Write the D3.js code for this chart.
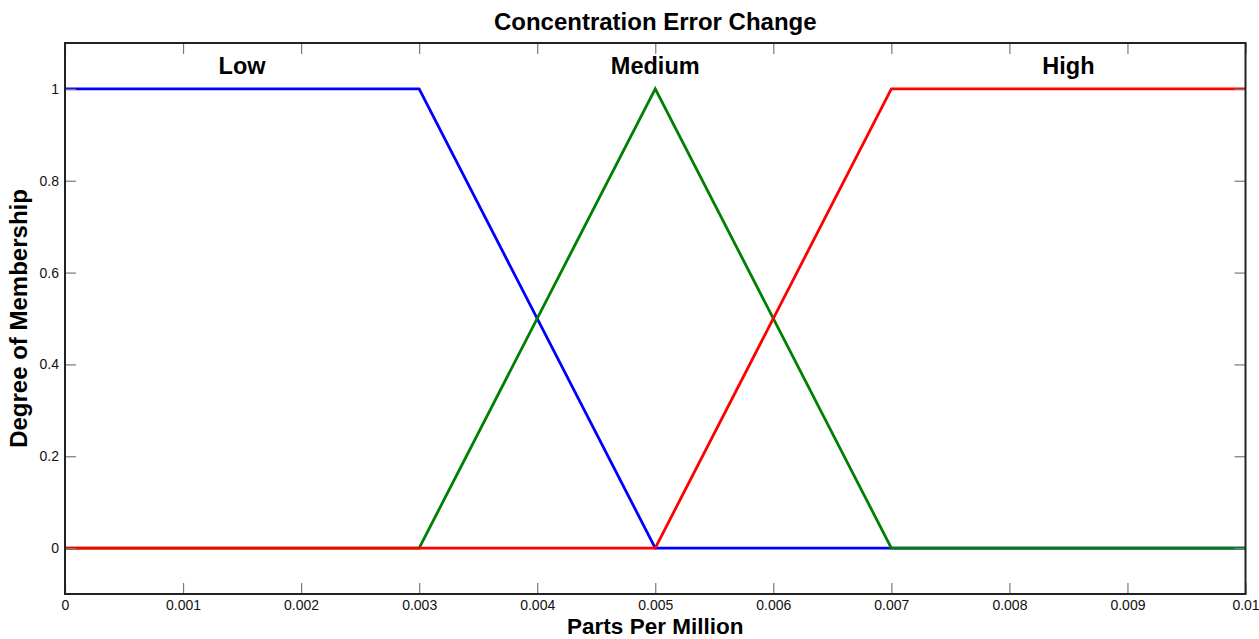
<!DOCTYPE html>
<html>
<head>
<meta charset="utf-8">
<script src="https://cdn.jsdelivr.net/npm/d3@7"></script>
<style>
  body { margin: 0; background: #fff; }
  svg { display: block; font-family: "Liberation Sans", Arial, Helvetica, sans-serif; }
</style>
</head>
<body>
<div id="chart"></div>
<script>
// membership function breakpoints (Parts Per Million) and degrees
const lowX = [0, 0.003, 0.005, 0.01];
const lowY = [1, 1, 0, 0];
const mediumX = [0, 0.003, 0.005, 0.007, 0.01];
const mediumY = [0, 0, 1, 0, 0];
const highX = [0, 0.005, 0.007, 0.01];
const highY = [0, 0, 1, 1];

const setNames = ["Low", "Medium", "High"];
const setLabelX = [0.0015, 0.005, 0.0085];
const setLabelY = 1.05;

const xTicks = [0, 0.001, 0.002, 0.003, 0.004, 0.005, 0.006, 0.007, 0.008, 0.009, 0.01];
const xTickLabels = ["0", "0.001", "0.002", "0.003", "0.004", "0.005", "0.006", "0.007", "0.008", "0.009", "0.01"];
const yTicks = [0, 0.2, 0.4, 0.6, 0.8, 1];
const yTickLabels = ["0", "0.2", "0.4", "0.6", "0.8", "1"];

function drawChart() {
    const W = 1259, H = 639;
    const margin = {top: 43, right: 13.5, bottom: 45, left: 65};
    const width = W - margin.left - margin.right;
    const height = H - margin.top - margin.bottom;

    const svg = d3.select("#chart").append("svg")
        .attr("width", W)
        .attr("height", H);

    const g = svg.append("g")
        .attr("transform", `translate(${margin.left},${margin.top})`);

    const x = d3.scaleLinear().domain([0, 0.01]).range([0, width]);
    const y = d3.scaleLinear().domain([-0.1, 1.1]).range([height, 0]);

    // series (drawn blue, green, red so overlaps match)
    const series = [
        {xs: lowX, ys: lowY, color: "#0000ff"},
        {xs: mediumX, ys: mediumY, color: "#008000"},
        {xs: highX, ys: highY, color: "#ff0000"}
    ];

    const line = d3.line()
        .x(d => x(d[0]))
        .y(d => y(d[1]));

    series.forEach(s => {
        g.append("path")
            .datum(s.xs.map((v, i) => [v, s.ys[i]]))
            .attr("fill", "none")
            .attr("stroke", s.color)
            .attr("stroke-width", 2.8)
            .attr("d", line);
    });

    // ticks on all four sides, pointing inward
    const tickLen = 11;
    const tickColor = "#7a7a7a";

    const xBottom = g.append("g")
        .attr("transform", `translate(0,${height})`)
        .call(d3.axisBottom(x).tickValues(xTicks).tickSizeInner(-tickLen).tickSizeOuter(0)
            .tickPadding(6)
            .tickFormat((d, i) => xTickLabels[i]));
    const xTop = g.append("g")
        .call(d3.axisTop(x).tickValues(xTicks).tickSizeInner(-tickLen).tickSizeOuter(0).tickFormat(""));
    const yLeft = g.append("g")
        .call(d3.axisLeft(y).tickValues(yTicks).tickSizeInner(-tickLen).tickSizeOuter(0)
            .tickPadding(6)
            .tickFormat((d, i) => yTickLabels[i]));
    const yRight = g.append("g")
        .attr("transform", `translate(${width},0)`)
        .call(d3.axisRight(y).tickValues(yTicks).tickSizeInner(-tickLen).tickSizeOuter(0).tickFormat(""));

    [xBottom, xTop, yLeft, yRight].forEach(a => {
        a.select(".domain").remove();
        a.selectAll(".tick line").attr("stroke", tickColor).attr("stroke-width", 1.2);
        a.selectAll(".tick text")
            .attr("fill", "#111")
            .style("font-size", "14px")
            .style("font-family", "\"Liberation Sans\", Arial, sans-serif");
    });

    // box
    g.append("rect")
        .attr("x", 0).attr("y", 0)
        .attr("width", width).attr("height", height)
        .attr("fill", "none")
        .attr("stroke", "#222")
        .attr("stroke-width", 2);

    // set labels
    g.selectAll(".set-label")
        .data(setNames)
        .enter().append("text")
        .attr("class", "set-label")
        .attr("x", (d, i) => x(setLabelX[i]))
        .attr("y", y(setLabelY))
        .attr("dy", "0.36em")
        .attr("text-anchor", "middle")
        .style("font-size", "23.5px")
        .style("font-weight", "bold")
        .attr("fill", "#000")
        .text(d => d);

    // title
    svg.append("text")
        .attr("x", margin.left + width / 2)
        .attr("y", 30)
        .attr("text-anchor", "middle")
        .style("font-size", "24px")
        .style("font-weight", "bold")
        .text("Concentration Error Change");

    // x label
    svg.append("text")
        .attr("x", margin.left + width / 2)
        .attr("y", 634)
        .attr("text-anchor", "middle")
        .style("font-size", "22.5px")
        .style("font-weight", "bold")
        .text("Parts Per Million");

    // y label
    svg.append("text")
        .attr("transform", "rotate(-90)")
        .attr("x", -(margin.top + height / 2))
        .attr("y", 27)
        .attr("text-anchor", "middle")
        .style("font-size", "24px")
        .style("font-weight", "bold")
        .text("Degree of Membership");
}

drawChart();
</script>
</body>
</html>
